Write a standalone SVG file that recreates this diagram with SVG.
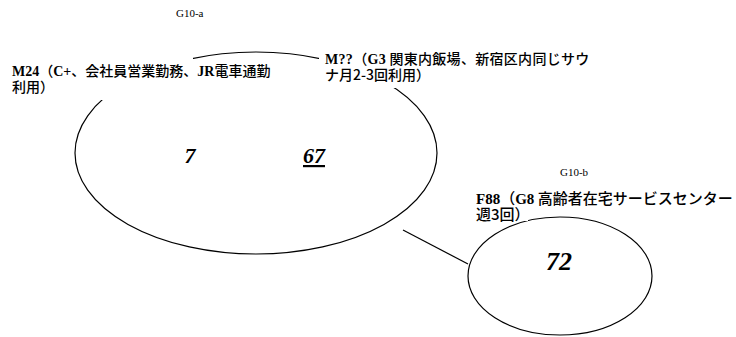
<svg xmlns="http://www.w3.org/2000/svg" width="736" height="337" viewBox="0 0 736 337">
<style>
.shape{fill:none;stroke:#000;stroke-width:1.2}
.mask{fill:#fff;stroke:none}
.lbl{font-family:"Liberation Serif","Noto Sans CJK JP",serif;font-size:14px;fill:#000}
.lbl15{font-size:15px}
.b{font-weight:bold;font-family:"Liberation Serif",serif}
.jp{font-family:"Noto Sans CJK JP",sans-serif;font-weight:500}
.grp{font-family:"Liberation Serif",serif;font-size:11px;fill:#000}
.num{font-family:"Liberation Serif",serif;font-weight:bold;font-style:italic;fill:#000}
</style>
<rect width="736" height="337" fill="#fff"/>
<g id="connectors">
<line class="shape" x1="403" y1="230" x2="468" y2="264"/>
</g>
<g id="node-a">
<ellipse class="shape" cx="256" cy="153" rx="181" ry="101"/>
<rect class="mask" x="0" y="40" width="193" height="60"/>
<rect class="mask" x="319" y="40" width="300" height="48"/>
<text class="grp" x="176" y="17">G10-a</text>
<text class="lbl" x="12" y="76"><tspan class="b">M24</tspan><tspan class="jp">（</tspan><tspan class="b">C+</tspan><tspan class="jp">、会社員営業勤務、</tspan><tspan class="b">JR</tspan><tspan class="jp">電車通勤</tspan></text>
<text class="lbl" x="12" y="92"><tspan class="jp">利用）</tspan></text>
<text class="lbl" x="325" y="64" letter-spacing="0.3"><tspan class="b">M??</tspan><tspan class="jp">（</tspan><tspan class="b">G3</tspan><tspan class="jp"> 関東内飯場、新宿区内同じサウ</tspan></text>
<text class="lbl" x="325" y="80"><tspan class="jp">ナ月2-3回利用）</tspan></text>
<text class="num" x="190" y="163" font-size="22" text-anchor="middle">7</text>
<text class="num" x="314" y="163" font-size="22" text-anchor="middle" text-decoration="underline">67</text>
</g>
<g id="node-b">
<ellipse class="shape" cx="560" cy="276" rx="92" ry="59"/>
<rect class="mask" x="470" y="188" width="58" height="33"/>
<text class="grp" x="560" y="176">G10-b</text>
<text class="lbl lbl15" x="476" y="204"><tspan class="b">F88</tspan><tspan class="jp">（</tspan><tspan class="b">G8</tspan><tspan class="jp"> 高齢者在宅サービスセンター</tspan></text>
<text class="lbl lbl15" x="476" y="220"><tspan class="jp">週3回）</tspan></text>
<text class="num" x="559" y="270" font-size="26" text-anchor="middle">72</text>
</g>
</svg>
